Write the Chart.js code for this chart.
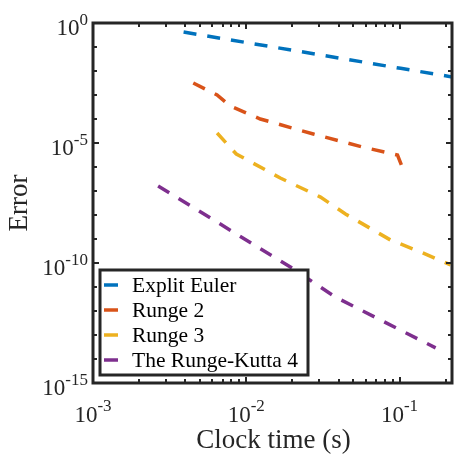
<!DOCTYPE html>
<html>
<head>
<meta charset="utf-8">
<script src="https://cdn.jsdelivr.net/npm/chart.js@4.4.1/dist/chart.umd.min.js"></script>
<style>
html,body{margin:0;padding:0;background:#fff;}
#wrap{width:454px;height:459px;position:relative;}
</style>
</head>
<body>
<div id="wrap"><canvas id="c"></canvas></div>
<script>
// ---- data (log-log) ----
const seriesNames = ["Explit Euler", "Runge 2", "Runge 3", "The Runge-Kutta 4"];
const seriesColors = ["#0072BD", "#D95319", "#EDB120", "#7E2F8E"];

const eulerX = [0.0039, 0.0106, 0.0305, 0.1016, 0.222];
const eulerY = [0.42, 0.144, 0.0469, 0.0129, 0.0056];

const rk2X = [0.00451, 0.00645, 0.00785, 0.01235, 0.0274, 0.0573, 0.097, 0.1047];
const rk2Y = [3.16e-3, 1.0e-3, 3.48e-4, 1.0e-4, 2.37e-5, 6.8e-6, 3.16e-6, 9.1e-7];

const rk3X = [0.00645, 0.00861, 0.01667, 0.0305, 0.0444, 0.0873, 0.137, 0.215];
const rk3Y = [2.61e-5, 3.48e-6, 3.48e-7, 5.6e-8, 1.1e-8, 9.1e-10, 2.9e-10, 8.3e-11];

const rk4X = [0.00266, 0.0194, 0.0382, 0.172];
const rk4Y = [1.62e-7, 6.8e-11, 3.8e-12, 2.9e-14];

const xTickValues = [1e-3, 1e-2, 1e-1];
const xTickExps = ["-3", "-2", "-1"];
const yTickValues = [1, 1e-5, 1e-10, 1e-15];
const yTickExps = ["0", "-5", "-10", "-15"];

const xTitle = "Clock time (s)";
const yTitle = "Error";

const xs = [eulerX, rk2X, rk3X, rk4X];
const ys = [eulerY, rk2Y, rk3Y, rk4Y];

const FONT = "'Liberation Serif', 'Times New Roman', serif";
const AX = "#262626";

const datasets = seriesNames.map((n, i) => ({
  label: n,
  data: xs[i].map((x, j) => ({x: x, y: ys[i][j]})),
  borderColor: seriesColors[i],
  backgroundColor: seriesColors[i],
  borderWidth: 3.5,
  borderDash: [13, 11],
  borderCapStyle: 'butt',
  pointRadius: 0,
  tension: 0,
  fill: false
}));

const decor = {
  id: 'decor',
  afterDatasetsDraw(chart) {
    const ctx = chart.ctx;
    const {left, right, top, bottom} = chart.chartArea;
    const sx = chart.scales.x, sy = chart.scales.y;
    ctx.save();

    // legend
    const lx0 = 100, ly0 = 270, lx1 = 308, ly1 = 375;
    ctx.fillStyle = '#fff';
    ctx.fillRect(lx0, ly0, lx1 - lx0, ly1 - ly0);
    ctx.lineWidth = 3;
    ctx.strokeStyle = AX;
    ctx.strokeRect(lx0, ly0, lx1 - lx0, ly1 - ly0);
    ctx.font = "21.5px " + FONT;
    ctx.textBaseline = 'alphabetic';
    ctx.textAlign = 'left';
    chart.data.datasets.forEach((d, i) => {
      const cy = 285 + i * 25;
      ctx.beginPath();
      ctx.strokeStyle = d.borderColor;
      ctx.lineWidth = 3.5;
      ctx.moveTo(104, cy);
      ctx.lineTo(118, cy);
      ctx.stroke();
      ctx.fillStyle = '#000';
      ctx.fillText(d.label, 132, cy + 7);
    });

    // axes box
    ctx.strokeStyle = AX;
    ctx.lineWidth = 3;
    ctx.strokeRect(left, top, right - left, bottom - top);

    // ticks
    ctx.lineWidth = 2;
    ctx.beginPath();
    for (let k = -3; k <= 0; k++) {
      for (let m = 1; m <= 9; m++) {
        const v = m * Math.pow(10, k);
        if (v < sx.min - 1e-12 || v > sx.max) continue;
        const px = Math.round(sx.getPixelForValue(v));
        const len = (m === 1) ? 6 : 4;
        ctx.moveTo(px, bottom); ctx.lineTo(px, bottom - len);
        ctx.moveTo(px, top); ctx.lineTo(px, top + len);
      }
    }
    for (let k = 0; k >= -15; k--) {
      const v = Math.pow(10, k);
      const py = Math.round(sy.getPixelForValue(v));
      const len = (k % 5 === 0) ? 6 : 4;
      ctx.moveTo(left, py); ctx.lineTo(left + len, py);
      ctx.moveTo(right, py); ctx.lineTo(right - len, py);
    }
    ctx.stroke();

    // tick labels
    const baseF = "23px " + FONT, expF = "17px " + FONT;
    ctx.fillStyle = '#262626';
    ctx.textAlign = 'left';
    xTickValues.forEach((v, i) => {
      const px = sx.getPixelForValue(v);
      ctx.font = baseF; const w1 = ctx.measureText("10").width;
      ctx.font = expF; const w2 = ctx.measureText(xTickExps[i]).width;
      const x0 = px - (w1 + w2) / 2;
      ctx.font = baseF; ctx.fillText("10", x0, 422);
      ctx.font = expF; ctx.fillText(xTickExps[i], x0 + w1, 411);
    });
    yTickValues.forEach((v, i) => {
      const py = sy.getPixelForValue(v);
      ctx.font = expF; const w2 = ctx.measureText(yTickExps[i]).width;
      ctx.font = baseF; const w1 = ctx.measureText("10").width;
      const xr = 88;
      ctx.font = expF; ctx.fillText(yTickExps[i], xr - w2, py + 2);
      ctx.font = baseF; ctx.fillText("10", xr - w2 - w1, py + 12);
    });

    // titles
    ctx.font = "27px " + FONT;
    ctx.textAlign = 'center';
    ctx.fillText(xTitle, (left + right) / 2 + 1, 448);
    ctx.save();
    ctx.translate(27, (top + bottom) / 2);
    ctx.rotate(-Math.PI / 2);
    ctx.textBaseline = 'alphabetic';
    ctx.fillText(yTitle, 0, 0);
    ctx.restore();

    ctx.restore();
  }
};

new Chart(document.getElementById('c'), {
  type: 'line',
  data: { datasets: datasets },
  options: {
    responsive: true,
    maintainAspectRatio: false,
    animation: false,
    devicePixelRatio: 1,
    layout: { padding: { top: 23, right: 2, left: 0, bottom: 0 } },
    plugins: { legend: { display: false }, tooltip: { enabled: false } },
    scales: {
      x: {
        type: 'logarithmic', min: 1e-3, max: 0.22,
        grid: { display: false, drawTicks: false }, border: { display: false },
        ticks: { display: false },
        afterFit: (s) => { s.height = 76; }
      },
      y: {
        type: 'logarithmic', min: 1e-15, max: 1,
        grid: { display: false, drawTicks: false }, border: { display: false },
        ticks: { display: false },
        afterFit: (s) => { s.width = 93; }
      }
    }
  },
  plugins: [decor]
});
</script>
</body>
</html>
